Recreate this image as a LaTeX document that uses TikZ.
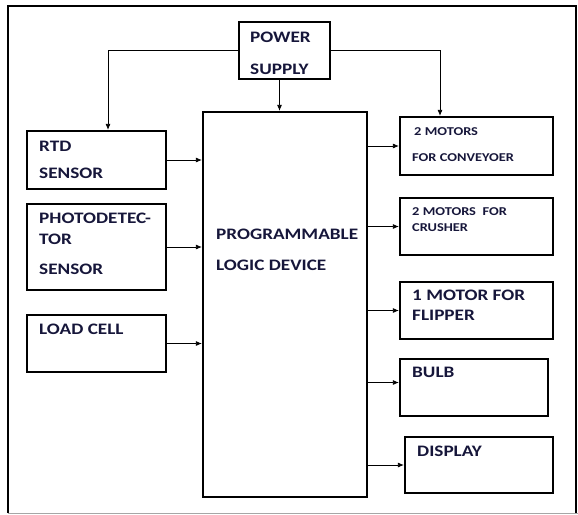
\documentclass[tikz,border=0pt]{standalone}
\usepackage{fontspec}
\setmainfont{Carlito}[FakeStretch=1.2]
\usetikzlibrary{arrows.meta}
\definecolor{txt}{RGB}{22,22,58}
\tikzset{
  blk/.style={draw=black, line width=2.2pt, rectangle, inner sep=0pt},
  big/.style={anchor=base west, inner sep=0pt, text=txt, font=\fontsize{16}{16}\selectfont\bfseries},
  small/.style={anchor=base west, inner sep=0pt, text=txt, font=\fontsize{12}{12}\selectfont\bfseries},
  arr/.style={draw=black, line width=0.8pt, -{Latex[length=6pt,width=5pt]}},
}
\begin{document}
\begin{tikzpicture}[x=1pt,y=-1pt]
\useasboundingbox (0,0) rectangle (578,514);
% outer frame
\draw[line width=1.8pt] (8,513) -- (8,6) -- (576,6) -- (576,513);
\draw[gray!70, line width=1pt] (8,513) -- (578,513);

% boxes
\node[blk, minimum width=91pt,  minimum height=57pt]  (power) at (284.5,50.5) {};
\node[blk, minimum width=164pt, minimum height=385pt] (pld)   at (285,304.5) {};
\node[blk, minimum width=139pt, minimum height=58pt]  (rtd)   at (96.5,160) {};
\node[blk, minimum width=139pt, minimum height=86pt]  (photo) at (96.5,247) {};
\node[blk, minimum width=139pt, minimum height=57pt]  (load)  at (96.5,343.5) {};
\node[blk, minimum width=153pt, minimum height=58pt]  (conv)  at (476.5,146) {};
\node[blk, minimum width=153pt, minimum height=57pt]  (crush) at (476.5,226.5) {};
\node[blk, minimum width=153pt, minimum height=57pt]  (flip)  at (476.5,310.5) {};
\node[blk, minimum width=148pt, minimum height=57pt]  (bulb)  at (474,387.5) {};
\node[blk, minimum width=148pt, minimum height=56pt]  (disp)  at (479,465) {};

% labels
\node[big] (tpow1) at (250,42) {POWER};
\node[big] (tpow2) at (250,74) {SUPPLY};
\node[big] (tpld1) at (216,239) {PROGRAMMABLE};
\node[big] (tpld2) at (216,270) {LOGIC DEVICE};
\node[big] (trtd1) at (39,151) {RTD};
\node[big] (trtd2) at (39,178) {SENSOR};
\node[big] (tph1) at (39,223) {PHOTODETEC-};
\node[big] (tph2) at (39,244) {TOR};
\node[big] (tph3) at (39,274) {SENSOR};
\node[big] (tld) at (39,334) {LOAD CELL};
\node[small] (tcv1) at (414,135) {2 MOTORS};
\node[small] (tcv2) at (412,161) {FOR CONVEYOER};
\node[small] (tcr1) at (412,215) {2 MOTORS\ \ FOR};
\node[small] (tcr2) at (412,231) {CRUSHER};
\node[big] (tfl1) at (412,300) {1 MOTOR FOR};
\node[big] (tfl2) at (412,320) {FLIPPER};
\node[big] (tbu) at (412,377) {BULB};
\node[big] (tdi) at (417,456) {DISPLAY};

% power connections
\draw[arr] ([xshift=-5pt]power.south) -- ([xshift=-5pt]power.south |- pld.north);
\draw[arr] (power.west) -| ([xshift=11.5pt]rtd.north);
\draw[arr] (power.east) -| ([xshift=-36.5pt]conv.north);

% inputs
\draw[arr] (rtd.east) -- (rtd.east -| pld.west);
\draw[arr] (photo.east) -- (photo.east -| pld.west);
\draw[arr] (load.east) -- (load.east -| pld.west);

% outputs
\draw[arr] (pld.east |- conv.west) -- (conv.west);
\draw[arr] (pld.east |- crush.west) -- (crush.west);
\draw[arr] (pld.east |- flip.west) -- (flip.west);
\draw[arr] ([yshift=5pt]pld.east |- bulb.west) -- ([yshift=5pt]bulb.west);
\draw[arr] (pld.east |- disp.west) -- (disp.west);
\end{tikzpicture}
\end{document}
